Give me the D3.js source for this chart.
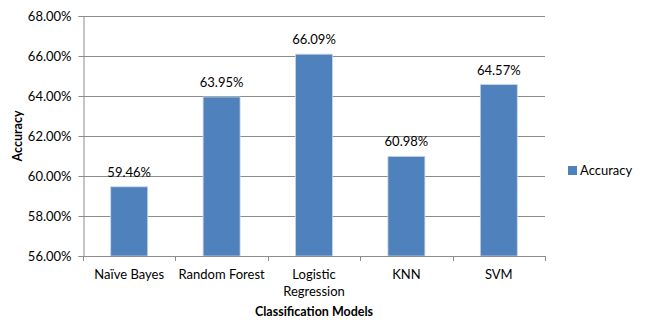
<!DOCTYPE html>
<html>
<head>
<meta charset="utf-8">
<script src="https://cdn.jsdelivr.net/npm/d3@7"></script>
<style>
  body { margin: 0; background: #fff; }
  text { font-family: Lato, "Open Sans", sans-serif; fill: #000; }
</style>
</head>
<body>
<div id="chart"></div>
<script>
const models = ["Naïve Bayes", "Random Forest", "Logistic Regression", "KNN", "SVM"];
const accuracy = [59.46, 63.95, 66.09, 60.98, 64.57];
const yTicks = [56, 58, 60, 62, 64, 66, 68];
const seriesName = "Accuracy";

const width = 645, height = 320;
const margin = {top: 16, right: 100, bottom: 64, left: 83};

const svg = d3.select("#chart").append("svg")
  .attr("width", width)
  .attr("height", height);

const x = d3.scaleBand()
  .domain(models)
  .range([margin.left, width - margin.right])
  .paddingInner(0.6)
  .paddingOuter(0.3);

const y = d3.scaleLinear()
  .domain([56, 68])
  .range([height - margin.bottom, margin.top]);

// gridlines
svg.append("g")
  .selectAll("line")
  .data(yTicks.slice(1))
  .enter().append("line")
  .attr("x1", margin.left)
  .attr("x2", width - margin.right)
  .attr("y1", d => y(d) + 0.5)
  .attr("y2", d => y(d) + 0.5)
  .style("stroke", "#8c8c8c")
  .style("stroke-width", 1);

// bars
svg.append("g")
  .selectAll("rect")
  .data(accuracy)
  .enter().append("rect")
  .attr("x", (d, i) => x(models[i]))
  .attr("y", d => y(d))
  .attr("width", x.bandwidth())
  .attr("height", d => y(56) - y(d))
  .style("fill", "#4f81bd")
  .style("stroke", "#c6d4e8")
  .style("stroke-width", 0.8);

// value labels
svg.append("g")
  .selectAll("text")
  .data(accuracy)
  .enter().append("text")
  .attr("x", (d, i) => x(models[i]) + x.bandwidth() / 2)
  .attr("y", d => y(d) - 10)
  .attr("text-anchor", "middle")
  .attr("font-size", "13px")
  .text(d => d.toFixed(2) + "%");

// y axis
const yAxis = d3.axisLeft(y)
  .tickValues(yTicks)
  .tickSize(5)
  .tickPadding(7)
  .tickFormat(d => d.toFixed(2) + "%");

const gy = svg.append("g")
  .attr("transform", "translate(" + (margin.left + 0.5) + ",0)")
  .call(yAxis);
gy.select(".domain").style("stroke", "#8c8c8c");
gy.selectAll(".tick line").style("stroke", "#8c8c8c");
gy.selectAll(".tick text").attr("font-size", "13px").style("font-family", "Lato, sans-serif").style("fill", "#000");

// x axis (category boundaries as ticks)
const bounds = d3.range(models.length + 1).map(i => margin.left + i * (width - margin.left - margin.right) / models.length);
const gx = svg.append("g");
gx.append("line")
  .attr("x1", margin.left)
  .attr("x2", width - margin.right)
  .attr("y1", y(56) + 0.5)
  .attr("y2", y(56) + 0.5)
  .style("stroke", "#8c8c8c");
gx.selectAll(".bt")
  .data(bounds)
  .enter().append("line")
  .attr("class", "bt")
  .attr("x1", d => Math.round(d) + 0.5)
  .attr("x2", d => Math.round(d) + 0.5)
  .attr("y1", y(56))
  .attr("y2", y(56) + 5)
  .style("stroke", "#8c8c8c");

const xl = gx.selectAll(".xl")
  .data(models)
  .enter().append("text")
  .attr("class", "xl")
  .attr("x", d => x(d) + x.bandwidth() / 2)
  .attr("y", y(56) + 23)
  .attr("text-anchor", "middle")
  .attr("font-size", "13px");
xl.each(function(d) {
  const parts = d === "Logistic Regression" ? ["Logistic", "Regression"] : [d];
  const t = d3.select(this);
  parts.forEach((p, i) => {
    t.append("tspan")
      .attr("x", t.attr("x"))
      .attr("dy", i === 0 ? 0 : 17)
      .text(p);
  });
});

// axis titles
svg.append("text")
  .attr("x", (margin.left + width - margin.right) / 2)
  .attr("y", 316)
  .attr("text-anchor", "middle")
  .attr("font-size", "12.5px")
  .attr("font-weight", "bold")
  .text("Classification  Models");

svg.append("text")
  .attr("transform", "translate(22," + ((margin.top + height - margin.bottom) / 2) + ") rotate(-90)")
  .attr("text-anchor", "middle")
  .attr("font-size", "12.5px")
  .attr("font-weight", "bold")
  .text("Accuracy");

// legend
const legend = svg.append("g")
  .attr("transform", "translate(568,166)");
legend.append("rect")
  .attr("width", 9)
  .attr("height", 9)
  .style("fill", "#4f81bd");
legend.append("text")
  .attr("x", 12)
  .attr("y", 9)
  .attr("font-size", "13px")
  .text(seriesName);
</script>
</body>
</html>
